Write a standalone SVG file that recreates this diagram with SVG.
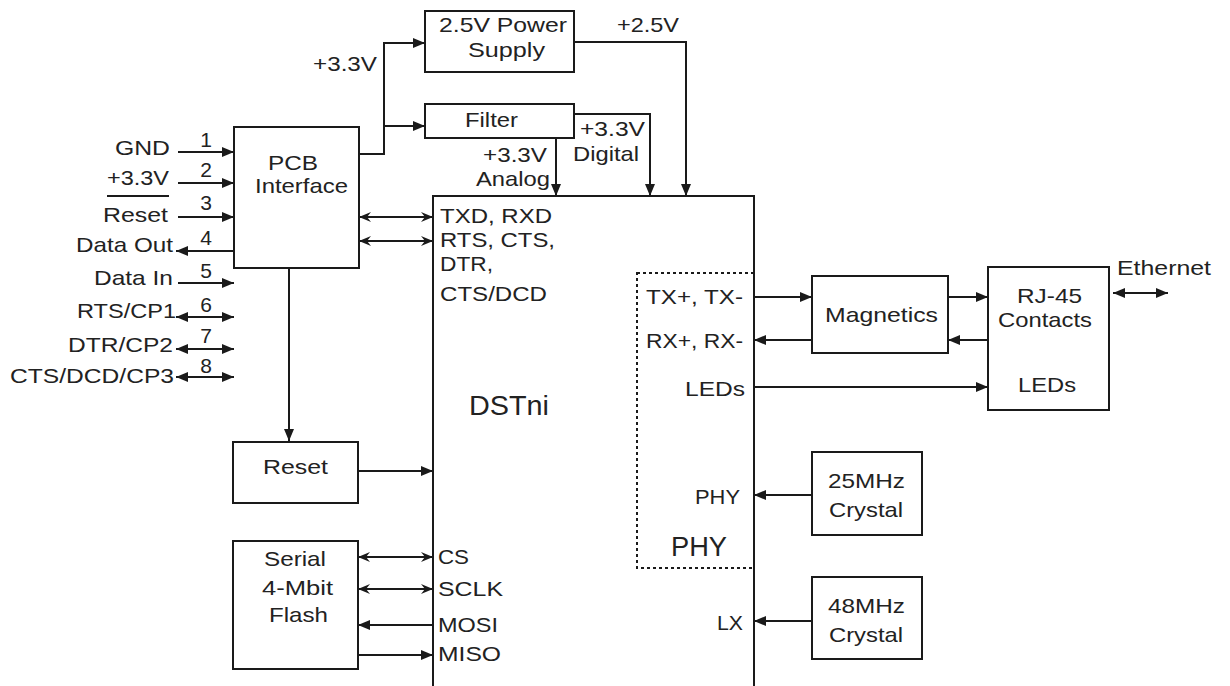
<svg xmlns="http://www.w3.org/2000/svg" width="1230" height="686" viewBox="0 0 1230 686">
<style>
.box{fill:#fff;stroke:#1a1a1a;stroke-width:2}
.ln{fill:none;stroke:#1a1a1a;stroke-width:2}
.dash{fill:none;stroke:#1a1a1a;stroke-width:2;stroke-dasharray:3,3}
text{font-family:"Liberation Sans",Arial,sans-serif;font-size:21px;fill:#222}
.big{font-size:28px}
</style>
<defs>
<marker id="a" markerUnits="userSpaceOnUse" markerWidth="13" markerHeight="11" refX="12" refY="5" orient="auto-start-reverse"><path d="M0,0 L12,5 L0,10 z" fill="#1a1a1a"/></marker>
<marker id="b" markerUnits="userSpaceOnUse" markerWidth="13" markerHeight="11" refX="12" refY="5" orient="auto-start-reverse"><path d="M0,0 L12,5 L0,10 L4,5 z" fill="#1a1a1a"/></marker>
</defs>
<rect width="1230" height="686" fill="#fff"/>

<g id="connectors">
<line class="ln" x1="178" y1="152" x2="234" y2="152" marker-end="url(#a)"/>
<line class="ln" x1="178" y1="183" x2="234" y2="183" marker-end="url(#a)"/>
<line class="ln" x1="178" y1="217" x2="234" y2="217" marker-end="url(#a)"/>
<line class="ln" x1="234" y1="251" x2="176" y2="251" marker-end="url(#a)"/>
<line class="ln" x1="178" y1="283" x2="234" y2="283" marker-end="url(#a)"/>
<line class="ln" x1="176" y1="317" x2="234" y2="317" marker-start="url(#a)" marker-end="url(#a)"/>
<line class="ln" x1="176" y1="349" x2="234" y2="349" marker-start="url(#a)" marker-end="url(#a)"/>
<line class="ln" x1="176" y1="377" x2="234" y2="377" marker-start="url(#a)" marker-end="url(#a)"/>
<line class="ln" x1="107" y1="196" x2="169" y2="196"/>
<polyline class="ln" points="359,154 384,154 384,43 425,43" marker-end="url(#a)"/>
<line class="ln" x1="384" y1="126" x2="425" y2="126" marker-end="url(#a)"/>
<polyline class="ln" points="574,42 686,42 686,196" marker-end="url(#a)"/>
<polyline class="ln" points="574,114 650,114 650,196" marker-end="url(#a)"/>
<line class="ln" x1="556" y1="138" x2="556" y2="196" marker-end="url(#a)"/>
<line class="ln" x1="359" y1="217" x2="433" y2="217" marker-start="url(#b)" marker-end="url(#b)"/>
<line class="ln" x1="359" y1="241" x2="433" y2="241" marker-start="url(#b)" marker-end="url(#b)"/>
<line class="ln" x1="289" y1="268" x2="289" y2="441" marker-end="url(#a)"/>
<line class="ln" x1="358" y1="471" x2="433" y2="471" marker-end="url(#a)"/>
<line class="ln" x1="358" y1="557" x2="433" y2="557" marker-start="url(#b)" marker-end="url(#b)"/>
<line class="ln" x1="358" y1="589" x2="433" y2="589" marker-start="url(#b)" marker-end="url(#b)"/>
<line class="ln" x1="433" y1="625" x2="358" y2="625" marker-end="url(#a)"/>
<line class="ln" x1="358" y1="655" x2="433" y2="655" marker-end="url(#a)"/>
<line class="ln" x1="754" y1="297" x2="812" y2="297" marker-end="url(#a)"/>
<line class="ln" x1="812" y1="340" x2="754" y2="340" marker-end="url(#a)"/>
<line class="ln" x1="754" y1="387" x2="988" y2="387" marker-end="url(#a)"/>
<line class="ln" x1="948" y1="297" x2="988" y2="297" marker-end="url(#a)"/>
<line class="ln" x1="988" y1="340" x2="948" y2="340" marker-end="url(#a)"/>
<line class="ln" x1="1113" y1="293" x2="1168" y2="293" marker-start="url(#a)" marker-end="url(#a)"/>
<line class="ln" x1="812" y1="495" x2="754" y2="495" marker-end="url(#a)"/>
<line class="ln" x1="812" y1="621" x2="754" y2="621" marker-end="url(#a)"/>
</g>

<g id="pin-labels">
<text x="115" y="155" textLength="55" lengthAdjust="spacingAndGlyphs">GND</text>
<text x="107" y="185" textLength="62" lengthAdjust="spacingAndGlyphs">+3.3V</text>
<text x="103" y="222" textLength="65" lengthAdjust="spacingAndGlyphs">Reset</text>
<text x="76" y="252" textLength="97" lengthAdjust="spacingAndGlyphs">Data Out</text>
<text x="94" y="285" textLength="79" lengthAdjust="spacingAndGlyphs">Data In</text>
<text x="77" y="318" textLength="99" lengthAdjust="spacingAndGlyphs">RTS/CP1</text>
<text x="68" y="352" textLength="105" lengthAdjust="spacingAndGlyphs">DTR/CP2</text>
<text x="10" y="383" textLength="164" lengthAdjust="spacingAndGlyphs">CTS/DCD/CP3</text>
<text x="206" y="147" text-anchor="middle">1</text>
<text x="206" y="177" text-anchor="middle">2</text>
<text x="206" y="210" text-anchor="middle">3</text>
<text x="206" y="245" text-anchor="middle">4</text>
<text x="206" y="278" text-anchor="middle">5</text>
<text x="206" y="312" text-anchor="middle">6</text>
<text x="206" y="343" text-anchor="middle">7</text>
<text x="206" y="373" text-anchor="middle">8</text>
</g>

<g id="pcb">
<rect class="box" x="234" y="127" width="125" height="141"/>
<text x="268" y="170" textLength="50" lengthAdjust="spacingAndGlyphs">PCB</text>
<text x="255" y="193" textLength="93" lengthAdjust="spacingAndGlyphs">Interface</text>
</g>

<g id="power-labels">
<text x="313" y="71" textLength="64" lengthAdjust="spacingAndGlyphs">+3.3V</text>
<text x="617" y="32" textLength="62" lengthAdjust="spacingAndGlyphs">+2.5V</text>
<text x="580" y="136" textLength="65" lengthAdjust="spacingAndGlyphs">+3.3V</text>
<text x="573" y="161" textLength="66" lengthAdjust="spacingAndGlyphs">Digital</text>
<text x="483" y="162" textLength="64" lengthAdjust="spacingAndGlyphs">+3.3V</text>
<text x="476" y="186" textLength="74" lengthAdjust="spacingAndGlyphs">Analog</text>
</g>

<g id="psu">
<rect class="box" x="425" y="11" width="149" height="61"/>
<text x="439" y="32" textLength="128" lengthAdjust="spacingAndGlyphs">2.5V Power</text>
<text x="468" y="57" textLength="77" lengthAdjust="spacingAndGlyphs">Supply</text>
</g>

<g id="filter">
<rect class="box" x="425" y="104" width="149" height="34"/>
<text x="465" y="127" textLength="53" lengthAdjust="spacingAndGlyphs">Filter</text>
</g>

<g id="dstni">
<rect class="box" x="433" y="196" width="321" height="510"/>
<text x="440" y="223" textLength="112" lengthAdjust="spacingAndGlyphs">TXD, RXD</text>
<text x="440" y="247" textLength="115" lengthAdjust="spacingAndGlyphs">RTS, CTS,</text>
<text x="440" y="271" textLength="53" lengthAdjust="spacingAndGlyphs">DTR,</text>
<text x="440" y="301" textLength="107" lengthAdjust="spacingAndGlyphs">CTS/DCD</text>
<text class="big" x="469" y="415" textLength="80" lengthAdjust="spacingAndGlyphs">DSTni</text>
<text x="438" y="564" textLength="31" lengthAdjust="spacingAndGlyphs">CS</text>
<text x="438" y="596" textLength="65" lengthAdjust="spacingAndGlyphs">SCLK</text>
<text x="438" y="632" textLength="60" lengthAdjust="spacingAndGlyphs">MOSI</text>
<text x="438" y="661" textLength="63" lengthAdjust="spacingAndGlyphs">MISO</text>
<text x="717" y="630" textLength="26" lengthAdjust="spacingAndGlyphs">LX</text>
</g>

<g id="phy">
<rect class="dash" x="637" y="273" width="117" height="295"/>
<line class="ln" x1="754" y1="273" x2="754" y2="568"/>
<text x="646" y="304" textLength="97" lengthAdjust="spacingAndGlyphs">TX+, TX-</text>
<text x="646" y="348" textLength="97" lengthAdjust="spacingAndGlyphs">RX+, RX-</text>
<text x="685" y="396" textLength="60" lengthAdjust="spacingAndGlyphs">LEDs</text>
<text x="695" y="504" textLength="45" lengthAdjust="spacingAndGlyphs">PHY</text>
<text class="big" x="671" y="556" textLength="56" lengthAdjust="spacingAndGlyphs">PHY</text>
</g>

<g id="magnetics">
<rect class="box" x="812" y="276" width="136" height="77"/>
<text x="825" y="322" textLength="113" lengthAdjust="spacingAndGlyphs">Magnetics</text>
</g>

<g id="rj45">
<rect class="box" x="988" y="267" width="121" height="143"/>
<text x="1017" y="303" textLength="65" lengthAdjust="spacingAndGlyphs">RJ-45</text>
<text x="998" y="327" textLength="94" lengthAdjust="spacingAndGlyphs">Contacts</text>
<text x="1018" y="392" textLength="58" lengthAdjust="spacingAndGlyphs">LEDs</text>
</g>

<g id="ethernet">
<text x="1117" y="275" textLength="94" lengthAdjust="spacingAndGlyphs">Ethernet</text>
</g>

<g id="xtal25">
<rect class="box" x="812" y="452" width="110" height="83"/>
<text x="828" y="488" textLength="77" lengthAdjust="spacingAndGlyphs">25MHz</text>
<text x="829" y="517" textLength="74" lengthAdjust="spacingAndGlyphs">Crystal</text>
</g>

<g id="xtal48">
<rect class="box" x="812" y="577" width="110" height="82"/>
<text x="828" y="613" textLength="77" lengthAdjust="spacingAndGlyphs">48MHz</text>
<text x="829" y="642" textLength="74" lengthAdjust="spacingAndGlyphs">Crystal</text>
</g>

<g id="reset">
<rect class="box" x="233" y="442" width="125" height="61"/>
<text x="263" y="474" textLength="65" lengthAdjust="spacingAndGlyphs">Reset</text>
</g>

<g id="flash">
<rect class="box" x="233" y="541" width="125" height="128"/>
<text x="264" y="566" textLength="62" lengthAdjust="spacingAndGlyphs">Serial</text>
<text x="262" y="595" textLength="71" lengthAdjust="spacingAndGlyphs">4-Mbit</text>
<text x="269" y="622" textLength="59" lengthAdjust="spacingAndGlyphs">Flash</text>
</g>
</svg>
